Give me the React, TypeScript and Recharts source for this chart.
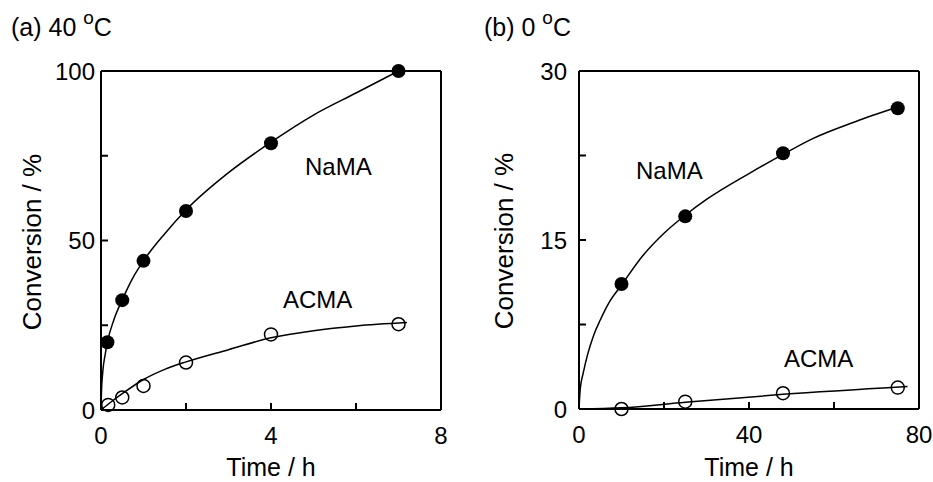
import React from 'react';
import { ComposedChart, Line, Scatter, XAxis, YAxis } from 'recharts';

// ---------- Panel (a) 40 °C ----------
const aTicksX = [0, 2, 4, 6, 8];
const aLabelsX = [0, 4, 8];
const aTicksY = [0, 25, 50, 75, 100];
const aLabelsY = [0, 50, 100];

const aNaMATime = [0.15, 0.5, 1, 2, 4, 7];
const aNaMAConv = [20, 32.4, 44, 58.7, 78.7, 100];
const aACMATime = [0.17, 0.5, 1, 2, 4, 7];
const aACMAConv = [1.5, 3.7, 7.1, 14, 22.3, 25.3];

const aNaMAFitTime = [0, 0.01, 0.04, 0.1, 0.15, 0.3, 0.5, 0.75, 1, 1.5, 2, 3, 4, 5, 6, 7];
const aNaMAFitConv = [0, 5, 11, 16.5, 20, 26.5, 32.5, 39, 44, 52, 59, 70, 79, 87, 93.5, 100];
const aACMAFitTime = [0, 0.25, 0.5, 1, 1.5, 2, 3, 4, 5, 6, 7.2];
const aACMAFitConv = [0, 2.5, 4.8, 9, 12, 14.2, 17.8, 21.3, 23.4, 24.8, 25.8];

// ---------- Panel (b) 0 °C ----------
const bTicksX = [0, 20, 40, 60, 80];
const bLabelsX = [0, 40, 80];
const bTicksY = [0, 7.5, 15, 22.5, 30];
const bLabelsY = [0, 15, 30];

const bNaMATime = [10, 25, 48, 75];
const bNaMAConv = [11.1, 17.1, 22.7, 26.7];
const bACMATime = [10, 25, 48, 75];
const bACMAConv = [0, 0.65, 1.4, 1.9];

const bNaMAFitTime = [0, 0.3, 1, 2, 3.5, 5, 7, 10, 15, 20, 25, 30, 40, 48, 55, 65, 75];
const bNaMAFitConv = [0, 1.8, 3.2, 4.8, 6.6, 7.9, 9.4, 11, 13.6, 15.6, 17.2, 18.6, 20.9, 22.6, 24, 25.5, 26.8];
const bACMAFitTime = [0, 10, 25, 48, 77.3];
const bACMAFitConv = [0, 0.1, 0.6, 1.3, 2.0];

const zip = (xs: number[], ys: number[]) => xs.map((x, i) => ({ x, y: ys[i] }));

const FONT = '"Liberation Sans", Arial, sans-serif';
const TICK = -7;

const FilledDot = (p: any) => <circle cx={p.cx} cy={p.cy} r={7} fill="#000" />;
const OpenDot = (p: any) => (
  <circle cx={p.cx} cy={p.cy} r={6.5} fill="none" stroke="#000" strokeWidth={1.5} />
);

const axisLine = { stroke: '#000', strokeWidth: 2 };
const tickLine = { stroke: '#000', strokeWidth: 2 };
const textStyle = { fill: '#000', fontSize: 24, fontFamily: FONT };
const hiddenTick = { fontSize: 1, fill: 'none' };
const blank = () => '';

const makeBottomTick = (labels: number[]) => (props: any) => {
  const { x, y, payload } = props;
  if (!labels.includes(payload.value)) return <g />;
  return (
    <text x={x} y={y} dy="0.71em" textAnchor="middle" {...textStyle}>
      {payload.value}
    </text>
  );
};
const makeLeftTick = (labels: number[]) => (props: any) => {
  const { x, y, payload } = props;
  if (!labels.includes(payload.value)) return <g />;
  return (
    <text x={x} y={y} dy="0.355em" textAnchor="end" {...textStyle}>
      {payload.value}
    </text>
  );
};

interface PanelProps {
  left: number;
  width: number;
  margin: { top: number; right: number; bottom: number; left: number };
  yWidth: number;
  yGap: number;
  xDomain: [number, number];
  yDomain: [number, number];
  xTicks: number[];
  xLabels: number[];
  yTicks: number[];
  yLabels: number[];
  naPts: { x: number; y: number }[];
  acPts: { x: number; y: number }[];
  naFit: { x: number; y: number }[];
  acFit: { x: number; y: number }[];
}

function Panel(p: PanelProps) {
  return (
    <div style={{ position: 'absolute', left: p.left, top: 0 }}>
      <ComposedChart width={p.width} height={482} margin={p.margin}>
        <XAxis
          xAxisId="b"
          dataKey="x"
          type="number"
          domain={p.xDomain}
          ticks={p.xTicks}
          interval={0}
          height={40}
          tickSize={TICK}
          tickMargin={17 - TICK}
          axisLine={axisLine}
          tickLine={tickLine}
          tick={makeBottomTick(p.xLabels)}
        />
        <XAxis
          xAxisId="t"
          orientation="top"
          dataKey="x"
          type="number"
          domain={p.xDomain}
          ticks={p.xTicks}
          interval={0}
          height={1}
          tickSize={TICK}
          axisLine={axisLine}
          tickLine={tickLine}
          tick={hiddenTick}
          tickFormatter={blank}
        />
        <YAxis
          yAxisId="l"
          dataKey="y"
          type="number"
          domain={p.yDomain}
          ticks={p.yTicks}
          interval={0}
          width={p.yWidth}
          tickSize={TICK}
          tickMargin={p.yGap - TICK}
          axisLine={axisLine}
          tickLine={tickLine}
          tick={makeLeftTick(p.yLabels)}
        />
        <YAxis
          yAxisId="r"
          orientation="right"
          dataKey="y"
          type="number"
          domain={p.yDomain}
          ticks={p.yTicks}
          interval={0}
          width={1}
          tickSize={TICK}
          axisLine={axisLine}
          tickLine={tickLine}
          tick={hiddenTick}
          tickFormatter={blank}
        />
        <Line
          xAxisId="b"
          yAxisId="l"
          data={p.naFit}
          dataKey="y"
          type="monotone"
          stroke="#000"
          strokeWidth={1.5}
          dot={false}
          isAnimationActive={false}
        />
        <Line
          xAxisId="b"
          yAxisId="l"
          data={p.acFit}
          dataKey="y"
          type="monotone"
          stroke="#000"
          strokeWidth={1.5}
          dot={false}
          isAnimationActive={false}
        />
        <Scatter
          xAxisId="b"
          yAxisId="l"
          data={p.naPts}
          shape={FilledDot}
          isAnimationActive={false}
        />
        <Scatter
          xAxisId="b"
          yAxisId="l"
          data={p.acPts}
          shape={OpenDot}
          isAnimationActive={false}
        />
      </ComposedChart>
    </div>
  );
}

export default function App() {
  const t = { fontFamily: FONT, fill: '#000' };
  return (
    <div style={{ position: 'absolute', left: 0, top: 0, width: 933, height: 482, background: '#fff' }}>
      <Panel
        left={0}
        width={466}
        margin={{ top: 70, right: 24, bottom: 32, left: 0 }}
        yWidth={101}
        yGap={6}
        xDomain={[0, 8]}
        yDomain={[0, 100]}
        xTicks={aTicksX}
        xLabels={aLabelsX}
        yTicks={aTicksY}
        yLabels={aLabelsY}
        naPts={zip(aNaMATime, aNaMAConv)}
        acPts={zip(aACMATime, aACMAConv)}
        naFit={zip(aNaMAFitTime, aNaMAFitConv)}
        acFit={zip(aACMAFitTime, aACMAFitConv)}
      />
      <Panel
        left={466}
        width={467}
        margin={{ top: 70, right: 13, bottom: 33, left: 0 }}
        yWidth={113}
        yGap={12}
        xDomain={[0, 80]}
        yDomain={[0, 30]}
        xTicks={bTicksX}
        xLabels={bLabelsX}
        yTicks={bTicksY}
        yLabels={bLabelsY}
        naPts={zip(bNaMATime, bNaMAConv)}
        acPts={zip(bACMATime, bACMAConv)}
        naFit={zip(bNaMAFitTime, bNaMAFitConv)}
        acFit={zip(bACMAFitTime, bACMAFitConv)}
      />
      <svg
        width={933}
        height={482}
        style={{ position: 'absolute', left: 0, top: 0, pointerEvents: 'none' }}
      >
        <text x={11} y={36} fontSize={25} {...t}>
          (a) 40 <tspan dy={-12} fontSize={19}>o</tspan>
          <tspan dy={12}>C</tspan>
        </text>
        <text x={484} y={36} fontSize={25} {...t}>
          (b) 0 <tspan dy={-12} fontSize={19}>o</tspan>
          <tspan dy={12}>C</tspan>
        </text>
        <text x={271} y={476} fontSize={25} textAnchor="middle" {...t}>Time / h</text>
        <text x={749} y={476} fontSize={25} textAnchor="middle" {...t}>Time / h</text>
        <text x={41} y={242} fontSize={26} textAnchor="middle" transform="rotate(-90, 41, 242)" {...t}>
          Conversion / %
        </text>
        <text x={513} y={241} fontSize={26} textAnchor="middle" transform="rotate(-90, 513, 241)" {...t}>
          Conversion / %
        </text>
        <text x={305} y={175} fontSize={24} {...t}>NaMA</text>
        <text x={283} y={308} fontSize={24} {...t}>ACMA</text>
        <text x={636} y={179} fontSize={24} {...t}>NaMA</text>
        <text x={784} y={367} fontSize={24} {...t}>ACMA</text>
      </svg>
    </div>
  );
}
